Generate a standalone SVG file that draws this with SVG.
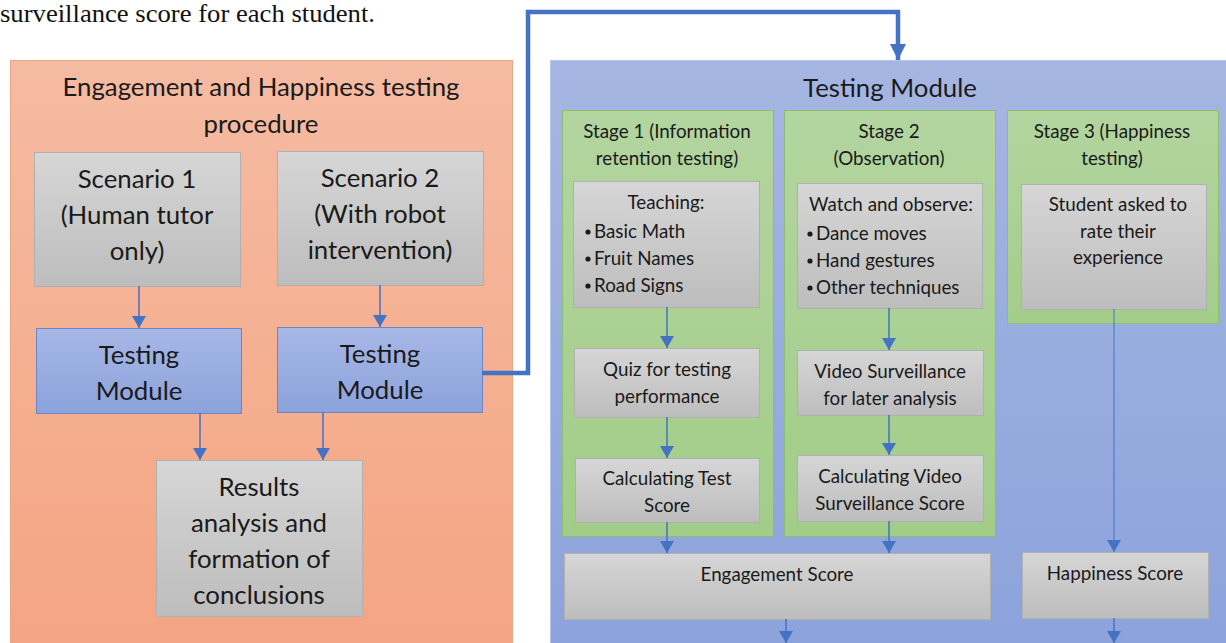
<svg xmlns="http://www.w3.org/2000/svg" width="1226" height="643" viewBox="0 0 1226 643">
  <style>
    .t { font-family: Lato, "Liberation Sans", sans-serif; fill: #1a1a1a; text-anchor: middle; }
    .big { font-size: 25.8px; }
    .mid { font-size: 18.8px; }
    .left { text-anchor: start; }
    .gray { fill: url(#gGray); stroke: #b0b0b0; stroke-width: 1; }
    .blue { fill: url(#gBlue); stroke: #6b86c8; stroke-width: 1; }
    .green { fill: url(#gGreen); stroke: #8cbd72; stroke-width: 1; }
  </style>
  <defs>
    <linearGradient id="gOrange" x1="0" y1="0" x2="0" y2="1">
      <stop offset="0" stop-color="#f5bba2"/>
      <stop offset="1" stop-color="#f4a482"/>
    </linearGradient>
    <linearGradient id="gPanel" x1="0" y1="0" x2="0" y2="1">
      <stop offset="0" stop-color="#a6b6e2"/>
      <stop offset="1" stop-color="#8ba2db"/>
    </linearGradient>
    <linearGradient id="gGray" x1="0" y1="0" x2="0" y2="1">
      <stop offset="0" stop-color="#d6d6d6"/>
      <stop offset="1" stop-color="#bdbdbd"/>
    </linearGradient>
    <linearGradient id="gBlue" x1="0" y1="0" x2="0" y2="1">
      <stop offset="0" stop-color="#a7b8e6"/>
      <stop offset="1" stop-color="#8ca2dc"/>
    </linearGradient>
    <linearGradient id="gGreen" x1="0" y1="0" x2="0" y2="1">
      <stop offset="0" stop-color="#b3d5a0"/>
      <stop offset="1" stop-color="#a2cd88"/>
    </linearGradient>
    <marker id="arrD" markerUnits="userSpaceOnUse" markerWidth="14" markerHeight="12" viewBox="0 0 14 12" refX="7" refY="12" orient="0">
      <path d="M0,0 L14,0 L7,12 Z" fill="#4472c4"/>
    </marker>
    <marker id="arrBig" markerUnits="userSpaceOnUse" markerWidth="16" markerHeight="16" viewBox="0 0 16 16" refX="8" refY="16" orient="0">
      <path d="M0,0 L16,0 L8,16 Z" fill="#4472c4"/>
    </marker>
  </defs>

  <rect width="1226" height="643" fill="#ffffff"/>

  <!-- running text above the figure -->
  <text x="0" y="22" font-family="Liberation Serif, serif" font-size="24.5" textLength="375" lengthAdjust="spacingAndGlyphs" fill="#111">surveillance score for each student.</text>

  <!-- left panel -->
  <g id="procedure">
    <rect x="10.5" y="60.5" width="502" height="600" fill="url(#gOrange)" stroke="#eaa586"/>
    <text class="t big" x="261" y="96">Engagement and Happiness testing</text>
    <text class="t big" x="261" y="133">procedure</text>
  </g>
  <g id="scenario1">
    <rect class="gray" x="34.5" y="152.5" width="206" height="134"/>
    <text class="t big" x="137" y="188">Scenario 1</text>
    <text class="t big" x="137" y="224">(Human tutor</text>
    <text class="t big" x="137" y="260">only)</text>
  </g>
  <g id="scenario2">
    <rect class="gray" x="277.5" y="151.5" width="206" height="134"/>
    <text class="t big" x="380" y="187">Scenario 2</text>
    <text class="t big" x="380" y="223">(With robot</text>
    <text class="t big" x="380" y="259">intervention)</text>
  </g>
  <g id="testing1">
    <rect class="blue" x="36.5" y="328.5" width="205" height="85"/>
    <text class="t big" x="139" y="364">Testing</text>
    <text class="t big" x="139" y="400">Module</text>
  </g>
  <g id="testing2">
    <rect class="blue" x="277.5" y="327.5" width="205" height="85"/>
    <text class="t big" x="380" y="363">Testing</text>
    <text class="t big" x="380" y="399">Module</text>
  </g>
  <g id="results">
    <rect class="gray" x="156.5" y="460.5" width="206" height="156"/>
    <text class="t big" x="259" y="496">Results</text>
    <text class="t big" x="259" y="532">analysis and</text>
    <text class="t big" x="259" y="568">formation of</text>
    <text class="t big" x="259" y="604">conclusions</text>
  </g>

  <!-- right panel -->
  <g id="testing-module">
    <rect x="550.5" y="60.5" width="690" height="600" fill="url(#gPanel)" stroke="#b8c6ea"/>
    <text class="t big" x="890" y="97">Testing Module</text>
  </g>
  <g id="stage1">
    <rect class="green" x="562.5" y="110.5" width="211" height="426"/>
    <text class="t mid" x="667" y="138">Stage 1 (Information</text>
    <text class="t mid" x="667" y="165">retention testing)</text>
  </g>
  <g id="stage2">
    <rect class="green" x="784.5" y="110.5" width="211" height="426"/>
    <text class="t mid" x="889" y="138">Stage 2</text>
    <text class="t mid" x="889" y="165">(Observation)</text>
  </g>
  <g id="stage3">
    <rect class="green" x="1007.5" y="110.5" width="211" height="213"/>
    <text class="t mid" x="1112" y="138">Stage 3 (Happiness</text>
    <text class="t mid" x="1112" y="165">testing)</text>
  </g>
  <g id="teaching">
    <rect class="gray" x="573.5" y="181.5" width="186" height="126"/>
    <text class="t mid" x="666" y="209">Teaching:</text>
    <circle cx="588" cy="232" r="2.6" fill="#1a1a1a"/>
    <circle cx="588" cy="259" r="2.6" fill="#1a1a1a"/>
    <circle cx="588" cy="286" r="2.6" fill="#1a1a1a"/>
    <text class="t mid left" x="594" y="238">Basic Math</text>
    <text class="t mid left" x="594" y="265">Fruit Names</text>
    <text class="t mid left" x="594" y="292">Road Signs</text>
  </g>
  <g id="watch">
    <rect class="gray" x="797.5" y="183.5" width="185" height="125"/>
    <text class="t mid" x="891" y="211">Watch and observe:</text>
    <circle cx="810" cy="234" r="2.6" fill="#1a1a1a"/>
    <circle cx="810" cy="261" r="2.6" fill="#1a1a1a"/>
    <circle cx="810" cy="288" r="2.6" fill="#1a1a1a"/>
    <text class="t mid left" x="816" y="240">Dance moves</text>
    <text class="t mid left" x="816" y="267">Hand gestures</text>
    <text class="t mid left" x="816" y="294">Other techniques</text>
  </g>
  <g id="student">
    <rect class="gray" x="1021.5" y="184.5" width="185" height="125"/>
    <text class="t mid" x="1118" y="211">Student asked to</text>
    <text class="t mid" x="1118" y="238">rate their</text>
    <text class="t mid" x="1118" y="264">experience</text>
  </g>
  <g id="quiz">
    <rect class="gray" x="574.5" y="348.5" width="185" height="69"/>
    <text class="t mid" x="667" y="376">Quiz for testing</text>
    <text class="t mid" x="667" y="403">performance</text>
  </g>
  <g id="video">
    <rect class="gray" x="797.5" y="350.5" width="186" height="65"/>
    <text class="t mid" x="890" y="378">Video Surveillance</text>
    <text class="t mid" x="890" y="405">for later analysis</text>
  </g>
  <g id="calc-test">
    <rect class="gray" x="575.5" y="458.5" width="184" height="64"/>
    <text class="t mid" x="667" y="485">Calculating Test</text>
    <text class="t mid" x="667" y="512">Score</text>
  </g>
  <g id="calc-video">
    <rect class="gray" x="797.5" y="455.5" width="186" height="66"/>
    <text class="t mid" x="890" y="483">Calculating Video</text>
    <text class="t mid" x="890" y="510">Surveillance Score</text>
  </g>
  <g id="engagement">
    <rect class="gray" x="564.5" y="553.5" width="426" height="66"/>
    <text class="t mid" x="777" y="581">Engagement Score</text>
  </g>
  <g id="happiness">
    <rect class="gray" x="1022.5" y="552.5" width="186" height="66"/>
    <text class="t mid" x="1115" y="580">Happiness Score</text>
  </g>

  <!-- connectors -->
  <g id="connectors" stroke="#4472c4" fill="none" stroke-width="1.5">
    <line x1="139" y1="286" x2="139" y2="328" marker-end="url(#arrD)"/>
    <line x1="380" y1="285" x2="380" y2="327" marker-end="url(#arrD)"/>
    <line x1="200" y1="413" x2="200" y2="460" marker-end="url(#arrD)"/>
    <line x1="323" y1="412" x2="323" y2="460" marker-end="url(#arrD)"/>
    <polyline points="482,373 528,373 528,12 898,12 898,60" stroke-width="4.5" marker-end="url(#arrBig)"/>
    <line x1="667" y1="307" x2="667" y2="348" marker-end="url(#arrD)"/>
    <line x1="889" y1="308" x2="889" y2="350" marker-end="url(#arrD)"/>
    <line x1="667" y1="417" x2="667" y2="458" marker-end="url(#arrD)"/>
    <line x1="889" y1="415" x2="889" y2="455" marker-end="url(#arrD)"/>
    <line x1="667" y1="522" x2="667" y2="553" marker-end="url(#arrD)"/>
    <line x1="889" y1="521" x2="889" y2="553" marker-end="url(#arrD)"/>
    <line x1="1114" y1="309" x2="1114" y2="552" stroke-width="1" marker-end="url(#arrD)"/>
    <line x1="786" y1="619" x2="786" y2="643" marker-end="url(#arrD)"/>
    <line x1="1114" y1="618" x2="1114" y2="643" marker-end="url(#arrD)"/>
  </g>
</svg>
